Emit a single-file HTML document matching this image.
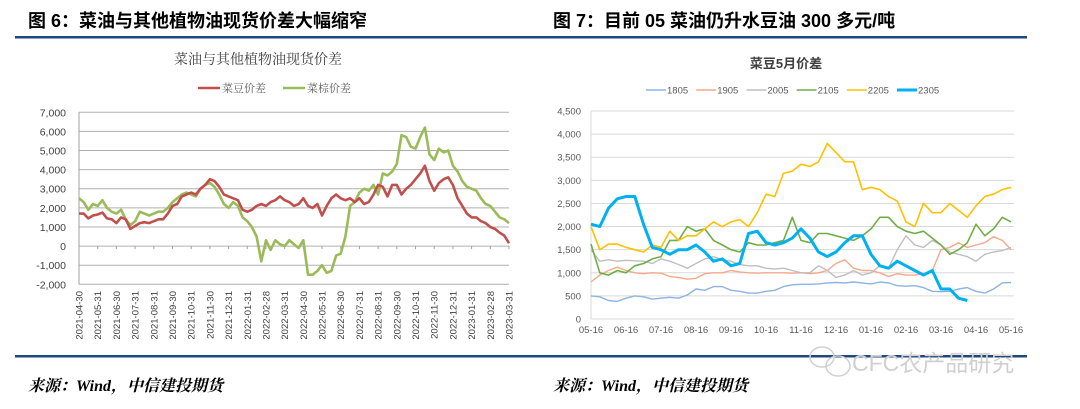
<!DOCTYPE html>
<html><head><meta charset="utf-8">
<style>
body{margin:0;background:#fff;}
svg{display:block;font-family:"Liberation Sans","Noto Sans CJK SC",sans-serif;}
</style></head>
<body>
<svg id="s" width="1080" height="409" viewBox="0 0 1080 409">
<text x="28" y="27" font-size="18" font-weight="bold" fill="#000">图 6：菜油与其他植物油现货价差大幅缩窄</text>
<text x="553" y="27" font-size="18" font-weight="bold" fill="#000">图 7：目前 05 菜油仍升水豆油 300 多元/吨</text>
<rect x="15" y="36" width="1012" height="2.5" fill="#1f497d"/>
<rect x="15" y="355" width="1012" height="2.5" fill="#1f497d"/>
<text x="258" y="64" font-size="14" fill="#404040" text-anchor="middle" font-family="Liberation Serif,Noto Serif CJK SC,serif">菜油与其他植物油现货价差</text>
<text x="786" y="68" font-size="13" font-weight="bold" fill="#404040" text-anchor="middle">菜豆5月价差</text>
<g id="L"></g>
<g id="R"></g>
<text x="28" y="391" font-size="16" font-weight="bold" font-style="italic" fill="#000" font-family="Liberation Serif,Noto Serif CJK SC,serif">来源：Wind，中信建投期货</text>
<text x="553" y="391" font-size="16" font-weight="bold" font-style="italic" fill="#000" font-family="Liberation Serif,Noto Serif CJK SC,serif">来源：Wind，中信建投期货</text>
<g fill="none" stroke="#d0d0d0" stroke-width="1.5">
<ellipse cx="822" cy="357" rx="12" ry="10"/><ellipse cx="838" cy="366" rx="12" ry="10"/>
</g>
<text x="852" y="371" font-size="23" fill="#d0d0d0">CFC农产品研究</text>
</svg>
<script>
// ---- Left chart data ----
const leftDates=["2021-04-30","2021-05-31","2021-06-30","2021-07-31","2021-08-31","2021-09-30","2021-10-31","2021-11-30","2021-12-31","2022-01-31","2022-02-28","2022-03-31","2022-04-30","2022-05-31","2022-06-30","2022-07-31","2022-08-31","2022-09-30","2022-10-31","2022-11-30","2022-12-31","2023-01-31","2023-02-28","2023-03-31"];
const leftTicks=[-2000,-1000,0,1000,2000,3000,4000,5000,6000,7000];
const redSeries=[1700,1700,1450,1600,1650,1750,1450,1400,1200,1500,1400,900,1050,1200,1250,1200,1300,1400,1400,1700,2100,2200,2600,2700,2800,2700,3000,3200,3500,3400,3100,2700,2600,2500,2400,1900,1800,1900,2100,2200,2100,2300,2400,2600,2400,2300,2100,2200,2500,2100,2000,2200,1600,2100,2500,2700,2500,2400,2500,2300,2500,2200,2300,2700,3200,3100,2600,3200,3200,2700,3000,3200,3500,3800,4200,3400,2900,3300,3500,3600,3200,2500,2100,1700,1500,1500,1300,1200,1000,900,700,550,150];
const greenSeries=[2500,2300,1900,2200,2100,2400,2000,1800,1700,1900,1400,1100,1300,1800,1700,1600,1700,1800,1800,2000,2300,2500,2700,2800,2700,2600,3000,3200,3300,3100,2700,2200,2000,2300,2100,1500,1300,1000,500,-800,300,-200,300,100,0,300,100,-100,300,-1500,-1500,-1300,-1000,-1400,-1300,-500,-400,500,2100,2300,2800,3000,2900,3200,2700,3800,3700,3900,4300,5800,5700,5200,5100,5700,6200,4800,4500,5100,4900,5000,4200,3900,3400,3100,3000,2900,2500,2200,2100,1800,1500,1400,1200];
// ---- Right chart data ----
const rightMonths=["05-16","06-16","07-16","08-16","09-16","10-16","11-16","12-16","01-16","02-16","03-16","04-16","05-16"];
const rightTicks=[0,500,1000,1500,2000,2500,3000,3500,4000,4500];
const s1805=[500,480,400,380,450,500,480,430,450,470,450,520,650,620,700,700,620,600,560,560,600,620,700,740,750,750,760,780,790,780,800,780,760,800,780,720,710,720,680,600,590,600,650,680,600,560,650,780,790];
const s1905=[800,950,1050,1120,1050,1000,980,1000,990,920,900,860,880,980,1000,1000,1050,1020,1000,990,1000,1000,1000,990,1000,980,1000,1050,1200,1280,1100,1050,1050,1000,920,980,950,950,980,1050,1500,1550,1650,1550,1600,1650,1780,1700,1500];
const s2005=[1500,1250,1280,1250,1270,1260,1250,1200,1300,1250,1180,1100,1200,1300,1350,1280,1250,1180,1150,1150,1100,1080,1100,1050,1000,1000,1150,1050,900,950,1050,950,1000,1150,1100,1500,1800,1600,1550,1700,1600,1450,1400,1350,1250,1400,1450,1480,1550];
const s2105=[1620,1000,950,1050,1000,1150,1200,1300,1350,1700,1700,2000,1900,1950,1700,1600,1500,1450,1650,1600,1600,1650,1700,2200,1700,1650,1850,1850,1800,1750,1700,1800,1950,2200,2200,2000,1900,1850,1900,1750,1600,1400,1500,1650,2050,1800,1950,2200,2100];
const s2205=[2000,1500,1620,1620,1550,1500,1450,1600,1550,1900,1700,1800,1800,1950,2100,2000,2100,2150,2000,2300,2700,2650,3150,3200,3350,3300,3400,3800,3600,3400,3400,2800,2850,2800,2650,2550,2100,2000,2500,2300,2300,2500,2350,2200,2450,2650,2700,2800,2850];
const s2305=[2050,2000,2400,2600,2650,2650,2050,1550,1500,1400,1500,1500,1600,1450,1250,1300,1150,1200,1850,1900,1650,1600,1650,1750,1950,1750,1450,1350,1450,1650,1800,1800,1400,1150,1100,1250,1150,1050,950,1050,650,650,450,400];
const NS="http://www.w3.org/2000/svg";
function mk(parent,tag,attrs){const e=document.createElementNS(NS,tag);for(const k in attrs)e.setAttribute(k,attrs[k]);parent.appendChild(e);return e;}
// Left chart
(function(){
 const g=document.getElementById('L');
 const x0=79,x1=509,yTop=112.3,yBot=284.3,vmin=-2000,vmax=7000;
 const ys=v=>yBot-(v-vmin)/(vmax-vmin)*(yBot-yTop);
 const nM=leftDates.length-1;
 const xm=m=>x0+m/nM*(x1-x0);
 leftTicks.forEach(t=>{
  const l=mk(g,'line',{x1:x0,x2:x1,y1:ys(t),y2:ys(t),stroke:'#b0b0b0','stroke-width':1});
  
  
  const tx=mk(g,'text',{x:66,y:ys(t)+4,'font-size':10.5,fill:'#404040','text-anchor':'end'});
  tx.textContent=t.toLocaleString('en-US');
  
  
 });
 const ax=mk(g,'line',{x1:x0,x2:x0,y1:yTop,y2:yBot,stroke:'#a0a0a0','stroke-width':1});
 
 
 leftDates.forEach((d,i)=>{
  const x=xm(i);
  const tk=mk(g,'line',{x1:x,x2:x,y1:ys(0),y2:ys(0)+3,stroke:'#a0a0a0'});
  
  
  const tx=mk(g,'text',{x:0,y:0,'font-size':9.5,fill:'#404040','text-anchor':'end',transform:`translate(${x+3.5},291) rotate(-90)`});
  tx.textContent=d;
  
  
 });
 function series(arr,color,name){
  const step=nM/(arr.length-1);
  const pts=arr.map((v,i)=>xm(i*step).toFixed(1)+','+ys(v).toFixed(1)).join(' ');
  const p=mk(g,'polyline',{points:pts,fill:'none',stroke:color,'stroke-width':2.6,'stroke-linejoin':'round'});
  
  
 }
 series(greenSeries,'#9bbb59','series-cai-zong');
 series(redSeries,'#c0504d','series-cai-dou');
 [[198,'#c0504d','菜豆价差'],[283,'#9bbb59','菜棕价差']].forEach(([x,c,t])=>{
  const l=mk(g,'line',{x1:x,x2:x+22,y1:88,y2:88,stroke:c,'stroke-width':2.6});
  
  
  const tx=mk(g,'text',{x:x+24,y:92,'font-size':11,fill:'#595959','font-family':'Liberation Serif,Noto Serif CJK SC,serif'});
  tx.textContent=t;
  
  
 });
})();
// Right chart
(function(){
 const g=document.getElementById('R');
 const x0=591,x1=1011,yTop=111,yBot=319,vmin=0,vmax=4500;
 const ys=v=>yBot-(v-vmin)/(vmax-vmin)*(yBot-yTop);
 const nM=rightMonths.length-1;
 const xm=m=>x0+m/nM*(x1-x0);
 rightTicks.forEach(t=>{
  if(t>0){const l=mk(g,'line',{x1:x0,x2:x1+3,y1:ys(t),y2:ys(t),stroke:'#d9d9d9','stroke-width':1});
  
  }
  const tx=mk(g,'text',{x:581,y:ys(t)+3.5,'font-size':9.5,fill:'#595959','text-anchor':'end'});
  tx.textContent=t.toLocaleString('en-US');
  
  
 });
 const ax=mk(g,'line',{x1:x0,x2:x0,y1:yTop,y2:yBot,stroke:'#d9d9d9'});
 
 
 const bx=mk(g,'line',{x1:x0,x2:x1+3,y1:yBot,y2:yBot,stroke:'#d9d9d9'});
 
 
 rightMonths.forEach((m,i)=>{
  const tx=mk(g,'text',{x:xm(i),y:333,'font-size':9.5,fill:'#595959','text-anchor':'middle'});
  tx.textContent=m;
  
  
 });
 const defs=[[s1805,'#8db3e2',1.4,'1805'],[s1905,'#f4a98c',1.4,'1905'],[s2005,'#bfbfbf',1.4,'2005'],[s2105,'#70ad47',1.6,'2105'],[s2205,'#ffc000',1.6,'2205'],[s2305,'#00b0f0',3,'2305']];
 defs.forEach(([arr,c,w,n])=>{
  const pts=arr.map((v,i)=>xm(i*0.25).toFixed(1)+','+ys(v).toFixed(1)).join(' ');
  const p=mk(g,'polyline',{points:pts,fill:'none',stroke:c,'stroke-width':w,'stroke-linejoin':'round'});
  
  
 });
 defs.forEach(([arr,c,w,n],i)=>{
  const x=646+i*50.2;
  const l=mk(g,'line',{x1:x,x2:x+20,y1:90,y2:90,stroke:c,'stroke-width':w});
  
  
  const tx=mk(g,'text',{x:x+21,y:93.5,'font-size':9.5,fill:'#595959'});
  tx.textContent=n;
  
  
 });
})();
</script>
</body></html>
